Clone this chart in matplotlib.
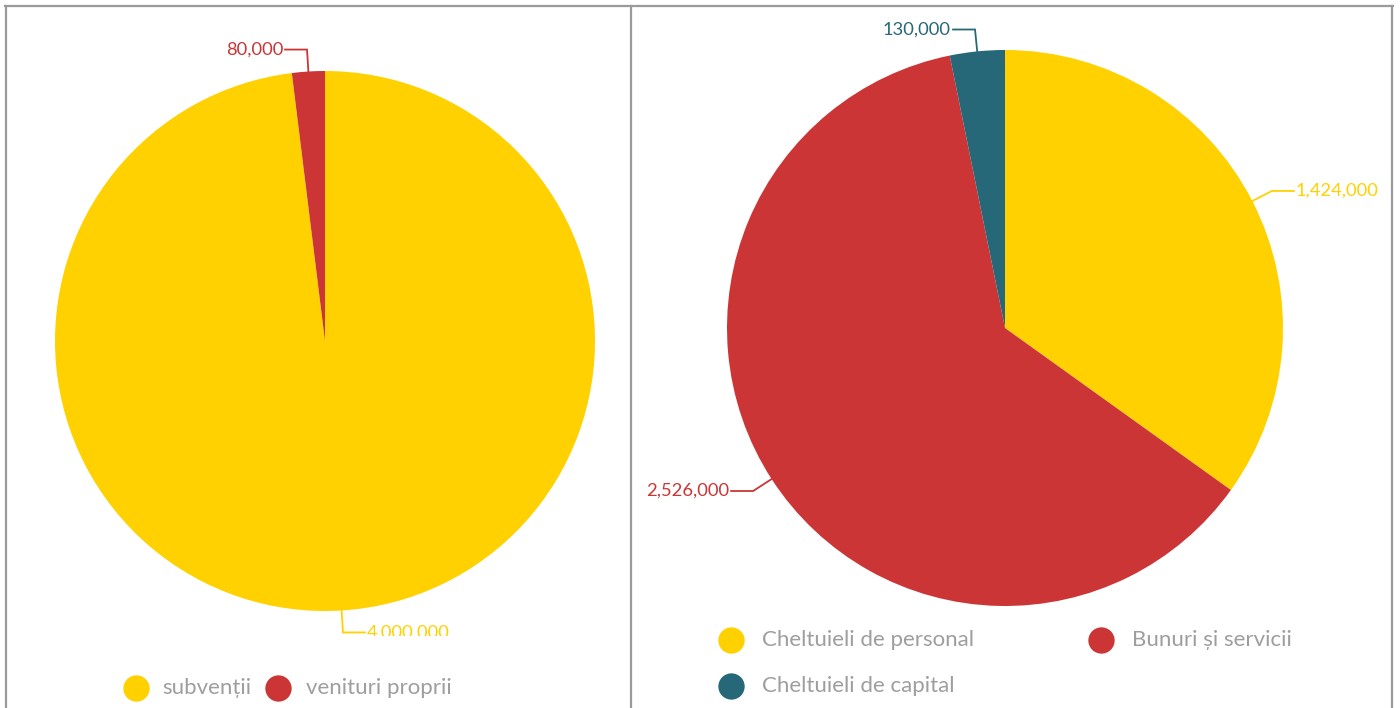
import numpy as np
import matplotlib.pyplot as plt
from matplotlib.transforms import Bbox

plt.rcParams['font.family'] = ['Lato', 'DejaVu Sans']

# ----- Data -----
venituri_labels = ["subvenții", "venituri proprii"]
venituri_values = [4000000, 80000]
venituri_colors = ["#FFD100", "#CC3535"]

cheltuieli_labels = ["Cheltuieli de personal", "Bunuri și servicii", "Cheltuieli de capital"]
cheltuieli_values = [1424000, 2526000, 130000]
cheltuieli_colors = ["#FFD100", "#CC3535", "#276878"]

W, H = 1400, 708
fig = plt.figure(figsize=(W / 100, H / 100), dpi=100)
fig.patch.set_facecolor("white")

# overlay in pixel coordinates for frame and legends
over = fig.add_axes([0, 0, 1, 1])
over.set_xlim(0, W)
over.set_ylim(H, 0)
over.axis("off")
frame = "#9a9a9a"
over.plot([5, 1393], [6, 6], color=frame, lw=1.6)
over.plot([6, 6], [6, H], color=frame, lw=1.6)
over.plot([631, 631], [6, H], color=frame, lw=1.6)
over.plot([1392, 1392], [6, H], color=frame, lw=1.6)


def pie_axes(cx, cy, r):
    ax = fig.add_axes([(cx - r) / W, (H - cy - r) / H, 2 * r / W, 2 * r / H])
    return ax


def draw_pie(ax, values, colors, r_px, clip=None):
    wedges, _ = ax.pie(values, colors=colors, startangle=90, counterclock=False,
                       radius=1, wedgeprops=dict(linewidth=0))
    ax.set_xlim(-1, 1)
    ax.set_ylim(-1, 1)
    ax.axis("off")
    ext = 22 / r_px
    horiz = 22 / r_px
    for w, v, c in zip(wedges, values, colors):
        ang = np.deg2rad((w.theta1 + w.theta2) / 2)
        x0, y0 = np.cos(ang), np.sin(ang)
        x1, y1 = (1 + ext) * x0, (1 + ext) * y0
        side = 1 if x0 >= 0 else -1
        x2 = x1 + side * horiz
        ax.plot([x0, x1, x2], [y0, y1, y1], color=c, lw=1.3, clip_on=False,
                solid_joinstyle="miter")
        t = ax.text(x2 + side * 2 / r_px, y1, f"{v:,}", color=c, fontsize=13.2,
                    ha="left" if side > 0 else "right", va="center")
        if clip is not None:
            t.set_clip_box(clip)
            t.set_clip_on(True)
        else:
            t.set_clip_on(False)


# left: revenues (bottom label runs into the legend strip and gets cut)
r1 = 270
ax1 = pie_axes(325, 341, r1)
clip_left = Bbox.from_extents(0, H - 636, W, H)
draw_pie(ax1, venituri_values, venituri_colors, r1, clip=clip_left)

# right: expenses
r2 = 278
ax2 = pie_axes(1005, 328, r2)
draw_pie(ax2, cheltuieli_values, cheltuieli_colors, r2)

# legends
legend_gray = "#9e9e9e"
left_pos = [(136, 688, 162), (278, 688, 306)]
for (mx, my, tx), lab, col in zip(left_pos, venituri_labels, venituri_colors):
    over.scatter([mx], [my], s=360, color=col, linewidths=0)
    over.text(tx, my, lab, color=legend_gray, fontsize=16, va="center", ha="left")

right_pos = [(731, 640, 762), (1101, 640, 1132), (731, 686, 762)]
for (mx, my, tx), lab, col in zip(right_pos, cheltuieli_labels, cheltuieli_colors):
    over.scatter([mx], [my], s=360, color=col, linewidths=0)
    over.text(tx, my, lab, color=legend_gray, fontsize=16, va="center", ha="left")

fig.savefig("out.png", dpi=100)
